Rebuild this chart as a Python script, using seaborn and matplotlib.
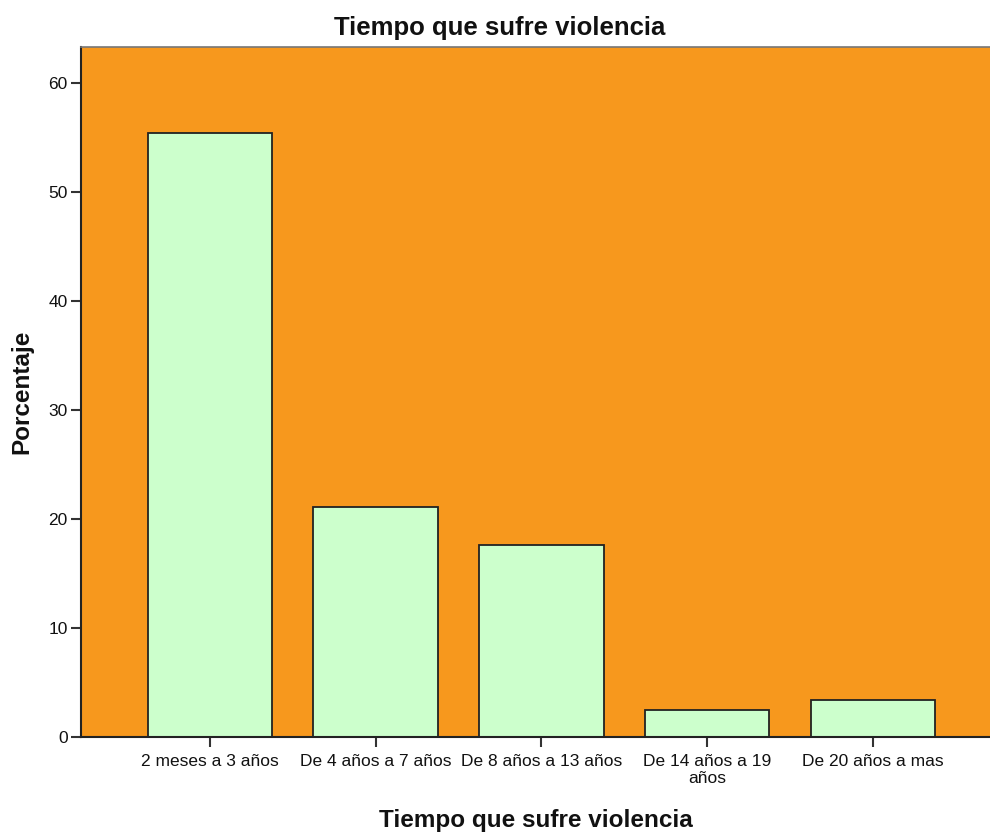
import pandas as pd
import seaborn as sns
import matplotlib.pyplot as plt

# Data
categorias = ['2 meses a 3 años', 'De 4 años a 7 años', 'De 8 años a 13 años',
              'De 14 años a 19\naños', 'De 20 años a mas']
porcentajes = [55.4, 21.1, 17.6, 2.5, 3.4]

df = pd.DataFrame({'Tiempo': categorias, 'Porcentaje': porcentajes})

sns.set_style('white')
plt.rcParams['font.family'] = ['Liberation Sans', 'DejaVu Sans']

fig = plt.figure(figsize=(9.9, 8.34), dpi=100)
ax = fig.add_axes([0.0818, 0.1163, 0.9182, 0.8273])
ax.set_facecolor('#F7981D')

sns.barplot(x='Tiempo', y='Porcentaje', data=df, color='#CCFFCC',
            edgecolor='#222222', linewidth=1.3, width=0.75, saturation=1, ax=ax)

ax.set_xlim(-0.777, 4.705)
ax.set_ylim(0, 63.3)
ax.set_yticks([0, 10, 20, 30, 40, 50, 60])

# title is centred on the whole figure, as in the original
fig.text(0.505, 1 - 28 / 834, 'Tiempo que sufre violencia', fontsize=18.5,
         fontweight='bold', ha='center', va='center', color='#111111')
ax.set_xlabel('Tiempo que sufre violencia', fontsize=17.5, fontweight='bold',
              labelpad=17, color='#111111')
ax.set_ylabel('Porcentaje', fontsize=17.5, fontweight='bold', labelpad=11,
              color='#111111')

ax.tick_params(axis='both', which='both', direction='out', length=7.5, width=1.5,
               color='#333333', labelsize=12.5, pad=2, bottom=True, left=True,
               labelcolor='#111111')
ax.tick_params(axis='x', pad=5)
for lbl in ax.get_xticklabels():
    lbl.set_linespacing(1.1)

for side in ['left', 'bottom']:
    ax.spines[side].set_color('#222222')
    ax.spines[side].set_linewidth(1.5)
ax.spines['top'].set_color('#777777')
ax.spines['top'].set_linewidth(1.2)
ax.spines['right'].set_visible(False)

fig.savefig('out.png', dpi=100)
